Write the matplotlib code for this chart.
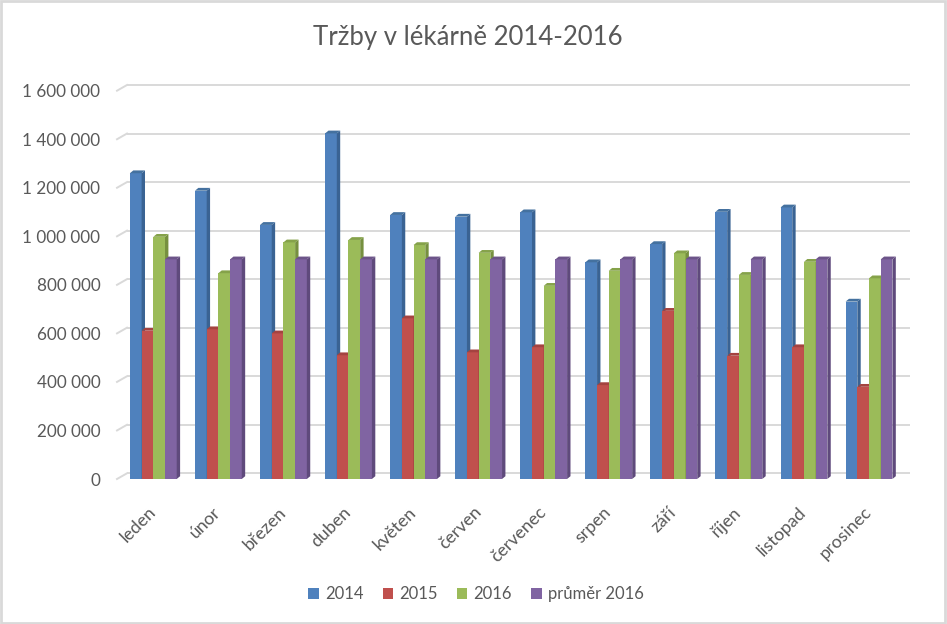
import matplotlib.pyplot as plt
from matplotlib.patches import Polygon, Rectangle

plt.rcParams['font.family'] = ['Lato', 'DejaVu Sans']

# --- data ---
mesice = ["leden", "únor", "březen", "duben", "květen", "červen",
          "červenec", "srpen", "září", "říjen", "listopad", "prosinec"]
trzby_2014 = [1260000, 1188000, 1047000, 1424000, 1088000, 1081000,
              1099000, 893000, 968000, 1101000, 1119000, 731000]
trzby_2015 = [611000, 617000, 600000, 510000, 662000, 522000,
              543000, 387000, 693000, 508000, 543000, 380000]
trzby_2016 = [998000, 848000, 975000, 985000, 964000, 932000,
              796000, 858000, 930000, 841000, 895000, 827000]
prumer_2016 = [905000] * 12
serie_nazvy = ["2014", "2015", "2016", "průměr 2016"]
osa_y = [0, 200000, 400000, 600000, 800000, 1000000, 1200000, 1400000, 1600000]

barvy = ["#4F81BD", "#C0504D", "#9BBB59", "#8064A2"]
boky = ["#3A6393", "#933C3A", "#76903F", "#5F4A7C"]
vrchy = ["#44719F", "#A44340", "#85A24A", "#6C5489"]
text_barva = "#595959"

W, H = 947, 624
fig = plt.figure(figsize=(W / 100, H / 100), dpi=100)
# axes placed in pixel terms: front plane 0 at y=479, 1.6M at y=90.7
ax = fig.add_axes([117 / W, (H - 479) / H, (910 - 117) / W, (479 - 90.7) / H])
ax.set_xlim(-0.558, 11.63)
ax.set_ylim(0, 1600000)
for s in ax.spines.values():
    s.set_visible(False)

px_x = 65.06          # pixels per category
px_y = 242.7 / 1e6    # pixels per unit value

# back-wall gridlines with short slanted ends at left
g_dx = 10 / px_x
g_dy = 5.7 / px_y
x0 = -0.558
for v in osa_y:
    ax.plot([x0 + g_dx, 11.63], [v + g_dy, v + g_dy], color="#D9D9D9",
            lw=1.4, zorder=1, clip_on=False, solid_capstyle="butt")
    ax.plot([x0, x0 + g_dx], [v, v + g_dy], color="#D9D9D9",
            lw=1.4, zorder=1, clip_on=False)

# bars with a bit of 3D look
sirka = 11.7 / px_x
b_dx = 3.4 / px_x
b_dy = 2.8 / px_y
serie = [trzby_2014, trzby_2015, trzby_2016, prumer_2016]
for k, hodnoty in enumerate(serie):
    pozice = [i + (k - 1.5) * sirka for i in range(len(mesice))]
    ax.bar(pozice, hodnoty, width=sirka, color=barvy[k], linewidth=0,
           zorder=3 + k, label=serie_nazvy[k])
    for x, v in zip(pozice, hodnoty):
        xl, xr = x - sirka / 2, x + sirka / 2
        ax.add_patch(Polygon([(xr, 0), (xr + b_dx, b_dy), (xr + b_dx, v + b_dy), (xr, v)],
                             closed=True, facecolor=boky[k], edgecolor="none",
                             zorder=3 + k, clip_on=False))
        ax.add_patch(Polygon([(xl, v), (xl + b_dx, v + b_dy), (xr + b_dx, v + b_dy), (xr, v)],
                             closed=True, facecolor=vrchy[k], edgecolor="none",
                             zorder=3 + k, clip_on=False))

ax.set_yticks(osa_y)
ax.set_yticklabels([f"{v:,}".replace(",", " ") for v in osa_y])
ax.tick_params(axis="y", length=0, pad=12, labelsize=12.3, labelcolor=text_barva)

ax.set_xticks(range(len(mesice)))
ax.set_xticklabels(mesice, rotation=45, ha="right", va="center",
                   rotation_mode="anchor")
ax.tick_params(axis="x", length=0, pad=22, labelsize=12.8, labelcolor=text_barva)

fig.text(468 / W, 1 - 38 / H, "Tržby v lékárně 2014-2016", ha="center", va="center",
         fontsize=18.5, color=text_barva)

leg = fig.legend(loc="center", bbox_to_anchor=(476 / W, 1 - 594 / H), ncol=4,
                 frameon=False, fontsize=12, handlelength=0.62, handleheight=0.62,
                 handletextpad=0.38, columnspacing=1.15)
for t in leg.get_texts():
    t.set_color(text_barva)

# light frame round the chart
fig.add_artist(Rectangle((0.001, 0.002), 0.997, 0.996, transform=fig.transFigure,
                         fill=False, edgecolor="#D9D9D9", lw=2))

fig.savefig("out.png", dpi=100)
